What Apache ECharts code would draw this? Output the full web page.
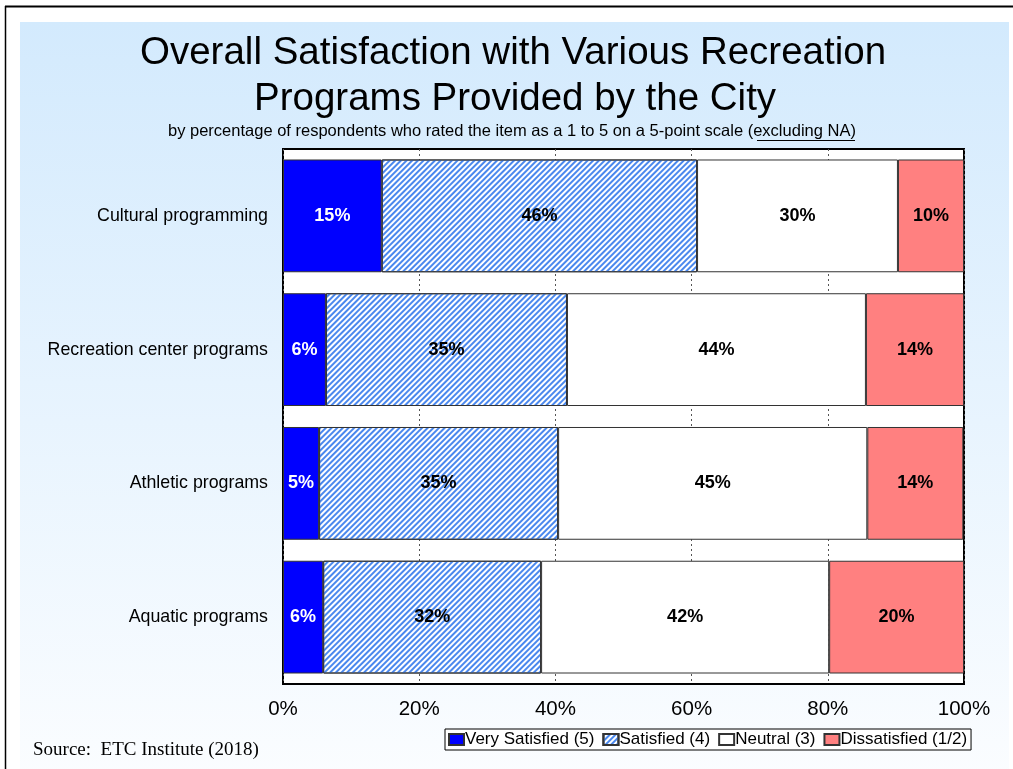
<!DOCTYPE html>
<html>
<head>
<meta charset="utf-8">
<script src="https://cdn.jsdelivr.net/npm/echarts@6/dist/echarts.min.js"></script>
<style>
html,body{margin:0;padding:0;background:#fff;}
#chart{width:1013px;height:769px;}
</style>
</head>
<body>
<div id="chart"></div>
<script>
// ---- data ----
const categories = ['Cultural programming', 'Recreation center programs', 'Athletic programs', 'Aquatic programs'];
const seriesNames = ['Very Satisfied (5)', 'Satisfied (4)', 'Neutral (3)', 'Dissatisfied (1/2)'];
const verySatisfied = [14.5, 6.3, 5.3, 5.9];
const satisfied = [46.3, 35.4, 35.1, 32.0];
const neutral = [29.5, 43.9, 45.4, 42.3];
const dissatisfied = [9.7, 14.4, 14.1, 19.8];
const xTicks = [0, 20, 40, 60, 80, 100];
const titleLines = ['Overall Satisfaction with Various Recreation', 'Programs Provided by the City'];

const chart = echarts.init(document.getElementById('chart'), null, { renderer: 'canvas' });
const fillColors = ['#0000ff', '#ffffff', '#ffffff', '#ff8080'];
const hatchDecal = {
  symbol: 'rect', symbolSize: 1, color: '#4a88ee',
  dashArrayX: [1, 0], dashArrayY: [1.2, 1.8], rotation: -Math.PI / 4
};
const decals = [null, hatchDecal, null, null];
const labelColors = ['#ffffff', '#000000', '#000000', '#000000'];
const allData = [verySatisfied, satisfied, neutral, dissatisfied];
const FONT = 'Liberation Sans, Arial, sans-serif';

const series = seriesNames.map((name, i) => {
  const itemStyle = { color: fillColors[i], borderColor: '#333', borderWidth: 1 };
  if (decals[i]) itemStyle.decal = decals[i];
  return {
    name: name,
    type: 'bar',
    stack: 'total',
    barCategoryGap: '15.7%',
    data: allData[i],
    itemStyle: itemStyle,
    label: {
      show: true,
      position: 'inside',
      formatter: p => Math.round(p.value) + '%',
      color: labelColors[i],
      fontFamily: FONT,
      fontWeight: 'bold',
      fontSize: 18
    },
    emphasis: { disabled: true }
  };
});

chart.setOption({
  animation: false,
  backgroundColor: '#ffffff',
  graphic: [
    { type: 'rect', z: -10, shape: { x: 20, y: 22, width: 989, height: 760 },
      style: { fill: new echarts.graphic.LinearGradient(0, 0, 0, 1, [
        { offset: 0, color: '#d3eafd' }, { offset: 1, color: '#fbfdff' }]) } },
    { type: 'line', z: -5, shape: { x1: 5, y1: 6.5, x2: 1013, y2: 6.5 }, style: { stroke: '#000', lineWidth: 2 } },
    { type: 'line', z: -5, shape: { x1: 5.5, y1: 6, x2: 5.5, y2: 769 }, style: { stroke: '#000', lineWidth: 1.5 } },
    { type: 'line', z: 10, shape: { x1: 757, y1: 140.5, x2: 855, y2: 140.5 }, style: { stroke: '#000', lineWidth: 1 } }
  ],
  title: [
    { text: titleLines[0], left: 135, top: 29,
      textStyle: { fontFamily: FONT, fontWeight: 'normal', fontSize: 38.5, color: '#000' } },
    { text: titleLines[1], left: 249, top: 75,
      textStyle: { fontFamily: FONT, fontWeight: 'normal', fontSize: 38.5, color: '#000' } },
    { text: 'by percentage of respondents who rated the item as a 1 to 5 on a 5-point scale (excluding NA)',
      left: 163, top: 118,
      textStyle: { fontFamily: FONT, fontWeight: 'normal', fontSize: 16.5, color: '#000' } },
    { text: 'Source:  ETC Institute (2018)', left: 28, top: 736,
      textStyle: { fontFamily: 'Liberation Serif, Times New Roman, serif', fontWeight: 'normal', fontSize: 19, color: '#000' } }
  ],
  legend: {
    data: seriesNames,
    left: 445, top: 729,
    orient: 'horizontal',
    icon: 'rect',
    itemWidth: 15, itemHeight: 11, itemGap: 8,
    padding: [2, 4, 2, 3],
    borderColor: '#000', borderWidth: 1,
    backgroundColor: '#fff',
    selectedMode: false,
    textStyle: { fontFamily: FONT, fontSize: 17, color: '#000', padding: [0, 0, 0, -4] }
  },
  grid: {
    left: 283, right: 49, top: 149, bottom: 85,
    show: true, backgroundColor: '#ffffff', borderColor: '#000', borderWidth: 2,
    containLabel: false
  },
  xAxis: {
    type: 'value', min: 0, max: 100, interval: 20,
    axisLine: { show: false }, axisTick: { show: false },
    splitLine: { show: true, lineStyle: { color: '#555', width: 1, type: [2, 3] } },
    axisLabel: {
      formatter: v => xTicks.includes(v) ? v + '%' : '',
      margin: 15, color: '#000', fontSize: 20.5,
      fontFamily: FONT
    }
  },
  yAxis: {
    type: 'category', data: categories, inverse: true,
    axisLine: { show: false }, axisTick: { show: false },
    axisLabel: { margin: 15, color: '#000', fontSize: 17.8, fontFamily: FONT }
  },
  series: series
});
</script>
</body>
</html>
